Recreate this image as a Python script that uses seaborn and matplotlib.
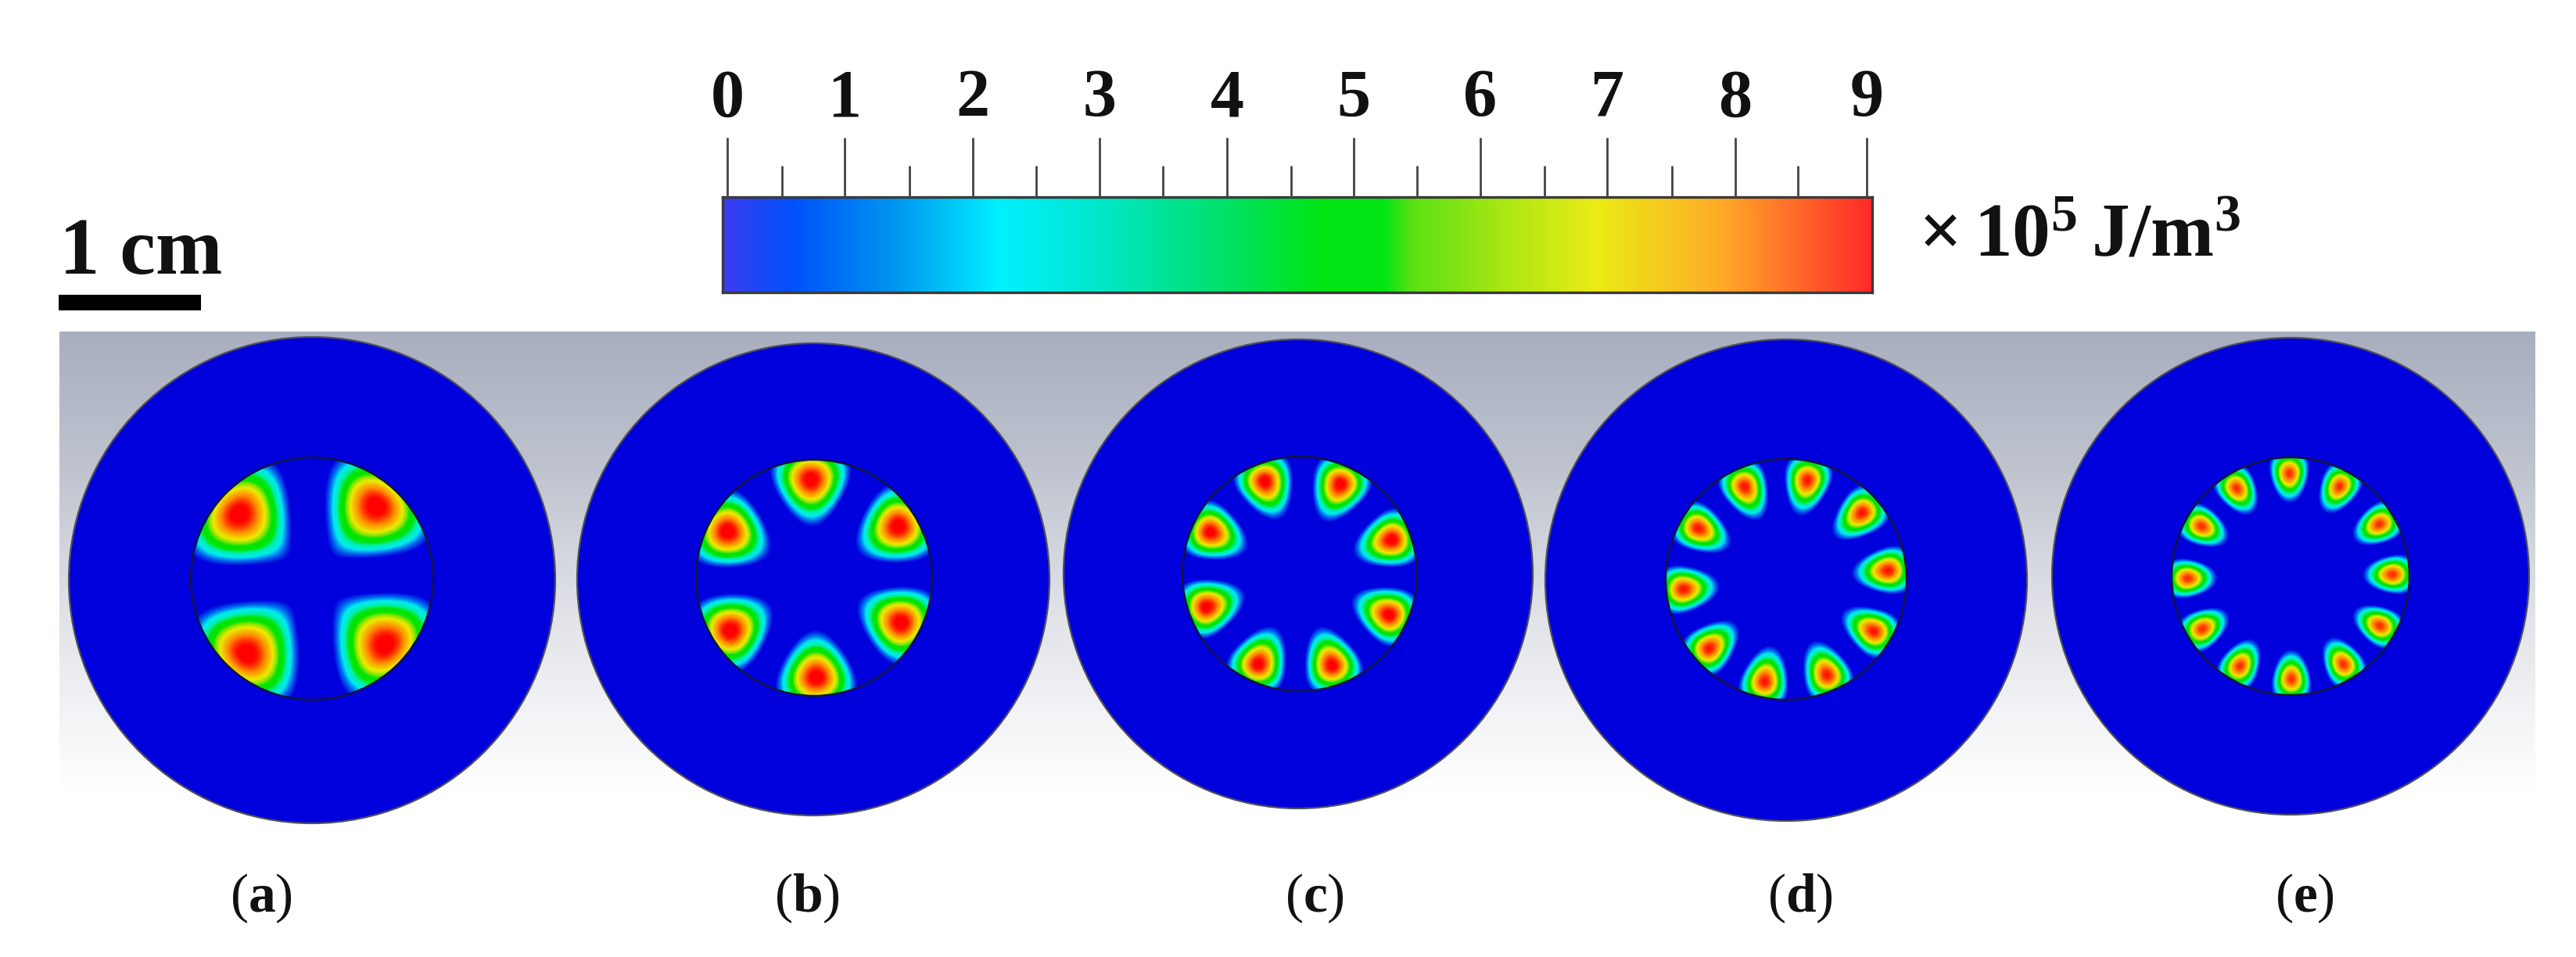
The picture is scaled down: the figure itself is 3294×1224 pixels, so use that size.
import numpy as np
import seaborn as sns
import matplotlib.pyplot as plt
from matplotlib.colors import LinearSegmentedColormap
from matplotlib.patches import Circle, Rectangle

sns.set_theme(style='white')
plt.rcParams['font.family'] = ['Liberation Serif', 'DejaVu Serif']
plt.rcParams['mathtext.fontset'] = 'custom'
plt.rcParams['mathtext.rm'] = 'Liberation Serif'
plt.rcParams['mathtext.bf'] = 'Liberation Serif:bold'

W, H = 3294, 1224

panel_labels = ['a', 'b', 'c', 'd', 'e']

# lobe centres, as fraction of the core radius (y downwards)
lobes_a_x = [-0.605, 0.532, -0.541, 0.607]
lobes_a_y = [-0.536, -0.601, 0.622, 0.547]
lobes_b_x = [-0.027, -0.735, 0.715, -0.712, 0.737, 0.018]
lobes_b_y = [-0.836, -0.394, -0.438, 0.447, 0.381, 0.845]
lobes_c_x = [-0.299, 0.348, -0.765, 0.787, -0.798, 0.765, -0.355, 0.277]
lobes_c_y = [-0.792, -0.769, -0.359, -0.293, 0.284, 0.350, 0.772, 0.783]
lobes_d_x = [0.177, -0.346, 0.632, -0.732, 0.848, -0.855, 0.729, -0.641, 0.340, -0.180]
lobes_d_y = [-0.827, -0.773, -0.556, -0.426, -0.074, 0.082, 0.433, 0.576, 0.797, 0.851]
lobes_e_x = [-0.011, -0.454, 0.412, -0.750, 0.748, -0.866, 0.857, 0.752, -0.743, -0.428, 0.445, 0.007]
lobes_e_y = [-0.866, -0.741, -0.757, -0.421, -0.439, 0.018, -0.015, 0.417, 0.443, 0.757, 0.741, 0.866]

# peak of each panel, x 10^5 J/m^3, and how fast a lobe falls off inwards / outwards
peak_values = [9.0, 9.0, 8.9, 8.6, 8.4]
fall_inner = [0.40, 0.30, 0.26, 0.23, 0.19]
fall_outer = [0.32, 0.26, 0.20, 0.18, 0.17]

scale_values = list(range(10))

# layout, pixels of the reference
disc_x = [399, 1040, 1660, 2284, 2929]
disc_y = [742, 741, 734, 742, 737]
disc_r = [311, 302, 300, 308, 305]
core_x = [399, 1041, 1662, 2284, 2929]
core_y = [740, 739, 734, 741, 737]
core_r = [155, 151, 150, 154, 152]
label_x = [334, 1032, 1681, 2302, 2947]
major_px = [930, 1080, 1244, 1406, 1569, 1731, 1893, 2055, 2219, 2387]
minor_px = [1000, 1163, 1325, 1487, 1651, 1812, 1975, 2138, 2299]

lobes = [(lobes_a_x, lobes_a_y), (lobes_b_x, lobes_b_y), (lobes_c_x, lobes_c_y),
         (lobes_d_x, lobes_d_y), (lobes_e_x, lobes_e_y)]


def rgb(*c):
    return tuple(v / 255 for v in c)


field_cmap = LinearSegmentedColormap.from_list('field', [
    (0.00, rgb(0, 0, 220)), (0.16, rgb(0, 0, 220)), (0.25, rgb(0, 110, 240)),
    (0.33, rgb(0, 235, 240)), (0.42, rgb(0, 238, 170)), (0.50, rgb(0, 228, 0)),
    (0.58, rgb(0, 228, 0)), (0.64, rgb(130, 228, 0)), (0.72, rgb(235, 235, 0)),
    (0.85, rgb(255, 140, 0)), (0.97, rgb(255, 0, 0)), (1.00, rgb(255, 0, 0))], N=512)
bar_cmap = LinearSegmentedColormap.from_list('bar', [
    (0.00, rgb(60, 60, 240)), (0.06, rgb(0, 80, 250)), (0.15, rgb(0, 150, 240)),
    (0.24, rgb(0, 240, 255)), (0.33, rgb(0, 230, 200)), (0.43, rgb(0, 225, 110)),
    (0.52, rgb(0, 228, 20)), (0.575, rgb(0, 228, 20)), (0.60, rgb(90, 225, 20)), (0.68, rgb(170, 230, 20)),
    (0.76, rgb(235, 235, 20)), (0.87, rgb(255, 170, 40)), (1.00, rgb(255, 40, 40))], N=512)
back_cmap = LinearSegmentedColormap.from_list('back', [
    (0.00, rgb(168, 174, 190)), (0.30, rgb(190, 195, 206)), (0.55, rgb(218, 221, 227)),
    (0.80, rgb(240, 241, 244)), (1.00, rgb(255, 255, 255))])

fig = plt.figure(figsize=(W / 100, H / 100), dpi=100)


def px_axes(x0, y0, x1, y1, zorder=1):
    ax = fig.add_axes([x0 / W, 1 - y1 / H, (x1 - x0) / W, (y1 - y0) / H], zorder=zorder)
    ax.patch.set_alpha(0)
    return ax


def lobe_field(i):
    # energy density on a pixel grid covering the outer disc
    dr = disc_r[i]
    px = np.arange(-dr, dr) + 0.5
    xx, yy = np.meshgrid(px, px)
    u = (xx + disc_x[i] - core_x[i]) / core_r[i]
    v = (yy + disc_y[i] - core_y[i]) / core_r[i]
    r = np.hypot(u, v)
    th = np.arctan2(v, u)
    lx, ly = np.array(lobes[i][0]), np.array(lobes[i][1])
    m = len(lx) / 2
    z = np.zeros_like(r)
    for a, b in zip(lx, ly):
        r0 = np.hypot(a, b)
        d = np.angle(np.exp(1j * (th - np.arctan2(b, a))))
        ang = np.where(np.abs(d) < np.pi / (2 * m), np.cos(m * d) ** 2, 0)
        s = np.where(r < r0, fall_inner[i], fall_outer[i])
        z += ang * np.exp(-((r - r0) / s) ** 2)
    z = z * peak_values[i]
    z[r > 1] = 0
    mask = np.hypot(xx, yy) > dr
    return z, mask


# grey backdrop
back_ax = px_axes(76, 424, 3242, 1018, zorder=1)
sns.heatmap(np.linspace(0, 1, 300)[:, None], cmap=back_cmap, vmin=0, vmax=1, cbar=False,
            xticklabels=False, yticklabels=False, ax=back_ax)

# discs
for i in range(5):
    ax = px_axes(disc_x[i] - disc_r[i], disc_y[i] - disc_r[i],
                 disc_x[i] + disc_r[i], disc_y[i] + disc_r[i], zorder=2)
    z, mask = lobe_field(i)
    sns.heatmap(z, mask=mask, cmap=field_cmap, vmin=0, vmax=9, cbar=False,
                xticklabels=False, yticklabels=False, ax=ax)

# colour scale
bar_ax = px_axes(924, 252, 2394, 374, zorder=3)
sns.heatmap(np.linspace(0, 9, 512)[None, :], cmap=bar_cmap, vmin=0, vmax=9, cbar=False,
            xticklabels=False, yticklabels=False, ax=bar_ax)
for s in bar_ax.spines.values():
    s.set_visible(True)
    s.set_color('#3a3a3a')
    s.set_linewidth(2.4)
top = bar_ax.twiny()
top.set_xlim(924, 2394)
top.set_xticks(major_px)
top.set_xticklabels([str(v) for v in scale_values], fontsize=62, fontweight='bold', color='#111111')
top.set_xticks(minor_px, minor=True)
top.tick_params(axis='x', which='major', length=55, width=2, color='#444444', pad=6)
top.tick_params(axis='x', which='minor', length=29, width=2, color='#444444')
top.grid(False)
for s in top.spines.values():
    s.set_visible(False)

# overlay in reference pixels: outlines, scale bar and texts
over = px_axes(0, 0, W, H, zorder=5)
over.set_xlim(0, W)
over.set_ylim(H, 0)
over.axis('off')
for i in range(5):
    over.add_patch(Circle((disc_x[i], disc_y[i]), disc_r[i], fill=False, ec='#50505a', lw=1.6))
    over.add_patch(Circle((core_x[i], core_y[i]), core_r[i], fill=False, ec='#14143c', lw=1.8))
    over.text(label_x[i], 1166, r'($\mathbf{%s}$)' % panel_labels[i], fontsize=50, ha='center',
              va='baseline', color='#111111')
over.add_patch(Rectangle((75, 377), 182, 20, color='black', lw=0))
over.text(76, 350, '1 cm', fontsize=74, fontweight='bold', va='baseline', color='#111111')
over.text(2453, 327, r'$\mathbf{\times\,10^5\,J/m^3}$', fontsize=70, va='baseline', color='#111111')

fig.savefig('out.png', dpi=100, facecolor='white')
